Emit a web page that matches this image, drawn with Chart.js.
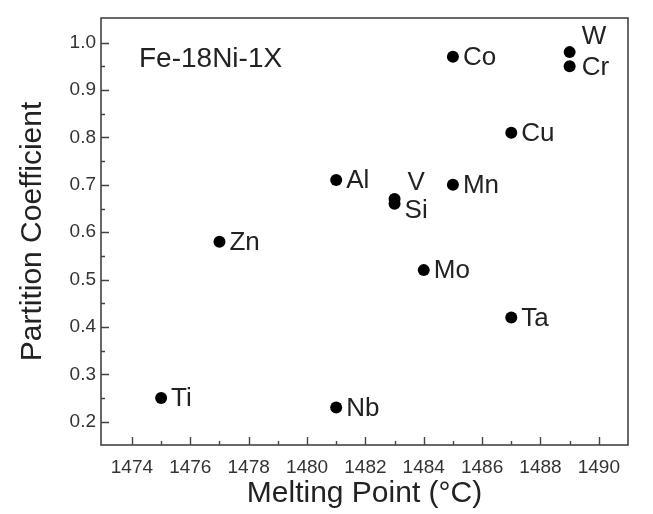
<!DOCTYPE html>
<html>
<head>
<meta charset="utf-8">
<script src="https://cdn.jsdelivr.net/npm/chart.js@4"></script>
<style>
  html, body { margin: 0; padding: 0; background: #fff; }
  #wrap { width: 653px; height: 514px; }
</style>
</head>
<body>
<div id="wrap"><canvas id="c" width="653" height="514"></canvas></div>
<script>
// ---- data ----
const elements      = ['Ti', 'Zn', 'Al', 'Nb', 'V', 'Si', 'Mo', 'Co', 'Mn', 'Cu', 'Ta', 'W', 'Cr'];
const meltingPoints = [1475, 1477, 1481, 1481, 1483, 1483, 1484, 1485, 1485, 1487, 1487, 1489, 1489];
const partitionCoef = [0.25, 0.58, 0.71, 0.23, 0.67, 0.66, 0.52, 0.97, 0.70, 0.81, 0.42, 0.98, 0.95];

const xTickValues  = [1474, 1476, 1478, 1480, 1482, 1484, 1486, 1488, 1490];
const xMinorValues = [1475, 1477, 1479, 1481, 1483, 1485, 1487, 1489];
const yTickValues  = [0.2, 0.3, 0.4, 0.5, 0.6, 0.7, 0.8, 0.9, 1.0];
const yMinorValues = [0.25, 0.35, 0.45, 0.55, 0.65, 0.75, 0.85, 0.95];
const yTickLabels  = ['0.2', '0.3', '0.4', '0.5', '0.6', '0.7', '0.8', '0.9', '1.0'];

const annotationText = 'Fe-18Ni-1X';
const xTitle = 'Melting Point (°C)';
const yTitle = 'Partition Coefficient';

// ---- styling (label placement relative to each point, in px) ----
const labelOffsets = {
  default: { dx: 10, dy: 1 },
  W:  { dx: 12, dy: -15 },
  Cr: { dx: 12, dy: 1 },
  V:  { dx: 13, dy: -16 },
  Si: { dx: 10, dy: 7 }
};

const FONT = "'Liberation Sans', Arial, Helvetica, sans-serif";
const AXIS_COLOR = '#444';
const TEXT_COLOR = '#222';

const points = meltingPoints.map((m, i) => ({ x: m, y: partitionCoef[i] }));

const frameTicks = {
  id: 'frameTicks',
  afterDraw(chart) {
    const { ctx, chartArea: a, scales: { x, y } } = chart;
    ctx.save();
    ctx.strokeStyle = AXIS_COLOR;
    ctx.lineWidth = 1.6;
    ctx.strokeRect(a.left, a.top, a.right - a.left, a.bottom - a.top);
    ctx.lineWidth = 1.4;
    ctx.beginPath();
    xTickValues.forEach(v => { const p = Math.round(x.getPixelForValue(v)) + 0.5; ctx.moveTo(p, a.bottom); ctx.lineTo(p, a.bottom - 8); });
    xMinorValues.forEach(v => { const p = Math.round(x.getPixelForValue(v)) + 0.5; ctx.moveTo(p, a.bottom); ctx.lineTo(p, a.bottom - 4); });
    yTickValues.forEach(v => { const p = Math.round(y.getPixelForValue(v)) + 0.5; ctx.moveTo(a.left, p); ctx.lineTo(a.left + 8, p); });
    yMinorValues.forEach(v => { const p = Math.round(y.getPixelForValue(v)) + 0.5; ctx.moveTo(a.left, p); ctx.lineTo(a.left + 4, p); });
    ctx.stroke();
    ctx.restore();
  }
};

const pointLabels = {
  id: 'pointLabels',
  afterDatasetsDraw(chart) {
    const { ctx, chartArea: a } = chart;
    const meta = chart.getDatasetMeta(0);
    ctx.save();
    ctx.fillStyle = TEXT_COLOR;
    ctx.font = '26px ' + FONT;
    ctx.textAlign = 'left';
    ctx.textBaseline = 'middle';
    meta.data.forEach((el, i) => {
      const name = elements[i];
      const o = labelOffsets[name] || labelOffsets.default;
      ctx.fillText(name, el.x + o.dx, el.y + o.dy);
    });
    ctx.font = '28px ' + FONT;
    ctx.fillText(annotationText, a.left + 38, a.top + 41);
    ctx.restore();
  }
};

new Chart(document.getElementById('c'), {
  type: 'scatter',
  data: {
    datasets: [{
      data: points,
      backgroundColor: '#000',
      borderColor: '#000',
      borderWidth: 0,
      pointRadius: 6,
      pointHoverRadius: 6
    }]
  },
  options: {
    responsive: false,
    animation: false,
    events: [],
    layout: { padding: { top: 18, right: 25, left: 0, bottom: 0 } },
    plugins: { legend: { display: false }, tooltip: { enabled: false } },
    scales: {
      x: {
        type: 'linear',
        min: 1472.94,
        max: 1491,
        afterBuildTicks(s) { s.ticks = xTickValues.map(v => ({ value: v })); },
        afterFit(s) { s.height = 69; },
        grid: { display: false, drawTicks: false },
        border: { display: false },
        ticks: {
          padding: 11,
          color: '#333',
          font: { family: FONT, size: 19 },
          maxRotation: 0,
          autoSkip: false,
          callback: (v) => String(v)
        },
        title: {
          display: true,
          text: xTitle,
          color: TEXT_COLOR,
          font: { family: FONT, size: 30, lineHeight: 1.2 },
          padding: { top: 0, bottom: 2 }
        }
      },
      y: {
        type: 'linear',
        min: 0.151,
        max: 1.052,
        afterBuildTicks(s) { s.ticks = yTickValues.map(v => ({ value: v })); },
        afterFit(s) { s.width = 101; },
        grid: { display: false, drawTicks: false },
        border: { display: false },
        ticks: {
          padding: 5,
          color: '#333',
          font: { family: FONT, size: 19 },
          autoSkip: false,
          callback: (v, i) => yTickLabels[i]
        },
        title: {
          display: true,
          text: yTitle,
          color: TEXT_COLOR,
          font: { family: FONT, size: 30, lineHeight: 1.2 },
          padding: { top: 15, bottom: 0 }
        }
      }
    }
  },
  plugins: [frameTicks, pointLabels]
});
</script>
</body>
</html>
